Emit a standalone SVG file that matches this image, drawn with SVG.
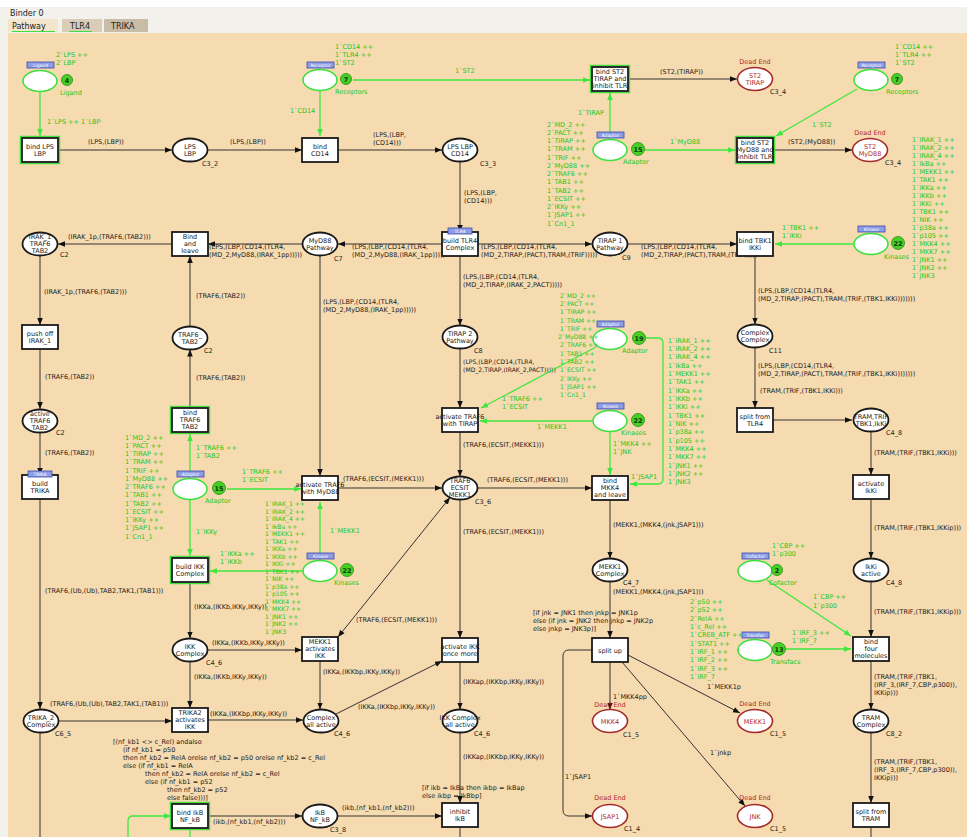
<svg xmlns="http://www.w3.org/2000/svg" width="967" height="837" viewBox="0 0 967 837">
<defs>
<style>
text{font-family:"DejaVu Sans","Liberation Sans",sans-serif;font-size:6.5px;fill:#1a1a1a}
.nt{text-anchor:middle}
.g{fill:#20c820}
.sm{font-size:6.1px}
.r{fill:#b02a2a}
.pl{fill:#fff;stroke:#1a1a1a;stroke-width:1.8}
.de{fill:#fff;stroke:#a52a2a;stroke-width:1.6}
.fp{fill:#fff;stroke:#3ee03e;stroke-width:1.6}
.tr{fill:#fff;stroke:#1a1a1a;stroke-width:1.8}
.tgo{fill:none;stroke:#3ee03e;stroke-width:1.4}
.arc{fill:none;stroke:#333;stroke-width:1;marker-end:url(#ah)}
.arcn{fill:none;stroke:#333;stroke-width:1}
.garc{fill:none;stroke:#3ee83e;stroke-width:1.3;marker-end:url(#gh)}
.garcn{fill:none;stroke:#3ee83e;stroke-width:1.3}
.tag{fill:#8d9ee6;stroke:#3a4aa8;stroke-width:0.8}
.tagt{font-size:4.5px;fill:#fff;text-anchor:middle}
.tok{fill:#48cf26;stroke:#2a8a12;stroke-width:0.8}
.tokt{font-size:6.5px;fill:#0c3a0c;text-anchor:middle;font-weight:bold}
.hd{font-family:"DejaVu Sans",sans-serif;font-size:8px;fill:#222}
</style>
<marker id="ah" viewBox="0 0 10 10" refX="10" refY="5" markerWidth="7" markerHeight="7" markerUnits="userSpaceOnUse" orient="auto-start-reverse"><path d="M0,1 L10,5 L0,9 z" fill="#111"/></marker>
<marker id="gh" viewBox="0 0 10 10" refX="10" refY="5" markerWidth="7" markerHeight="7" markerUnits="userSpaceOnUse" orient="auto"><path d="M0,1 L10,5 L0,9 z" fill="#3ee83e"/></marker>
</defs>

<!-- window chrome -->
<rect x="0" y="0" width="967" height="837" fill="#f2f1ec"/>
<rect x="0" y="0" width="967" height="7" fill="#ffffff"/>
<text class="hd" x="10" y="16">Binder 0</text>
<rect x="8" y="19" width="50" height="13" fill="#f3e6cc"/>
<rect x="62" y="19" width="40" height="13" fill="#d9cdb8"/>
<rect x="104" y="19" width="44" height="13" fill="#c9bca6"/>
<text class="hd" x="12" y="29">Pathway</text>
<text class="hd" x="70" y="29">TLR4</text>
<text class="hd" x="111" y="29">TRIKA</text>
<line x1="12" y1="31.5" x2="55" y2="31.5" stroke="#3ee03e" stroke-width="1"/>
<line x1="69" y1="31.5" x2="92" y2="31.5" stroke="#3ee03e" stroke-width="1"/>
<rect x="8" y="33" width="959" height="804" fill="#f6dab0"/>

<!-- connectors -->
<g id="connectors">
<path class="arc" d="M58,150 H172"/><text x="88" y="144">(LPS,(LBP))</text>
<path class="arc" d="M208,150 H302"/><text x="230" y="144">(LPS,(LBP))</text>
<path class="arc" d="M338,150 H442"/><text x="373" y="137">(LPS,(LBP,</text><text x="373" y="145">(CD14)))</text>
<path class="arc" d="M628,79 H737"/><text x="660" y="74">(ST2,(TIRAP))</text>
<path class="arc" d="M773,150 H852"/><text x="788" y="144">(ST2,(MyD88))</text>
<path class="arc" d="M460,161.5 V232"/><text x="464" y="195">(LPS,(LBP,</text><text x="464" y="203">(CD14)))</text>
<path class="arc" d="M442,244 H338"/><text x="352" y="249">(LPS,(LBP,(CD14,(TLR4,</text><text x="352" y="257">(MD_2,MyD88,(IRAK_1pp)))))</text>
<path class="arc" d="M478,244 H592"/><text x="481" y="249">(LPS,(LBP,(CD14,(TLR4,</text><text x="481" y="257">(MD_2,TIRAP,(PACT),TRAM,(TRIF)))))</text>
<path class="arc" d="M628,244 H737"/><text x="641" y="249">(LPS,(LBP,(CD14,(TLR4,</text><text x="641" y="257">(MD_2,TIRAP,(PACT),TRAM,(TRIF)))))</text>
<path class="arc" d="M302,244 H208"/><text x="209" y="249">(LPS,(LBP,(CD14,(TLR4,</text><text x="209" y="257">(MD_2,MyD88,(IRAK_1pp)))))</text>
<path class="arc" d="M172,244 H58"/><text x="68" y="239">(IRAK_1p,(TRAF6,(TAB2)))</text>
<path class="arc" d="M40,255.5 V325"/><text x="44" y="294">(IRAK_1p,(TRAF6,(TAB2)))</text>
<path class="arc" d="M40,349 V409"/><text x="45" y="379">(TRAF6,(TAB2))</text>
<path class="arc" d="M40,432.5 V475"/><text x="45" y="455">(TRAF6,(TAB2))</text>
<path class="arc" d="M40,499 V709"/><text x="45" y="593">(TRAF6,(Ub,(Ub),TAB2,TAK1,(TAB1)))</text>
<path class="arc" d="M58,721 H172"/><text x="50" y="706">(TRAF6,(Ub,(Ub),TAB2,TAK1,(TAB1)))</text>
<path class="arcn" d="M40,732.5 V837"/>
<path class="arc" d="M190,326 V256"/><text x="196" y="298">(TRAF6,(TAB2))</text>
<path class="arc" d="M190,408 V349.5"/><text x="196" y="380">(TRAF6,(TAB2))</text>
<path class="arc" d="M320,255.5 V476"/><text x="323" y="304">(LPS,(LBP,(CD14,(TLR4,</text><text x="323" y="312">(MD_2,MyD88,(IRAK_1pp)))))</text>
<path class="arc" d="M338,488 H442"/><text x="343" y="481">(TRAF6,(ECSIT,(MEKK1)))</text>
<path class="arc" d="M460,256 V325.5"/><text x="463" y="279">(LPS,(LBP,(CD14,(TLR4,</text><text x="463" y="287">(MD_2,TIRAP,(IRAK_2,PACT)))))</text>
<path class="arc" d="M460,348.5 V408"/><text class="sm" x="463" y="364">(LPS,(LBP,(CD14,(TLR4,</text><text class="sm" x="463" y="372">(MD_2,TIRAP,(IRAK_2,PACT)))))</text>
<path class="arc" d="M460,432 V476.5"/><text x="463" y="447">(TRAF6,(ECSIT,(MEKK1)))</text>
<path class="arc" d="M478,488 H592"/><text x="487" y="482">(TRAF6,(ECSIT,(MEKK1)))</text>
<path class="arc" d="M460,499.5 V638"/><text x="463" y="534">(TRAF6,(ECSIT,(MEKK1)))</text>
<path class="arc" d="M450,497.5 L338,637" marker-start="url(#ah)"/><text x="356" y="622">(TRAF6,(ECSIT,(MEKK1)))</text>
<path class="arc" d="M610,500 V558.5"/><text x="613" y="527">(MEKK1,(MKK4,(jnk,JSAP1)))</text>
<path class="arc" d="M610,581.5 V638"/><text x="613" y="594">(MEKK1,(MKK4,(jnk,JSAP1)))</text>
<text x="533" y="615">[if jnk = JNK1 then jnkp = JNK1p</text><text x="533" y="623">else (if jnk = JNK2 then jnkp = JNK2p</text><text x="533" y="631">else jnkp = JNK3p)]</text>
<path class="arc" d="M610,662 V709.5"/><text x="613" y="699">1`MKK4pp</text>
<path class="arc" d="M628,655 L740,713"/><text x="707" y="689">1`MEKK1p</text>
<path class="arc" d="M622,662 L745,806"/><text x="710" y="755">1`jnkp</text>
<path class="arc" d="M592,650 H569 Q563,650 563,656 V810 Q563,816 569,816 H592"/><text x="565" y="779">1`JSAP1</text>
<path class="arc" d="M190,582 V638.5"/><text x="194" y="609">(IKKa,(IKKb,IKKy,IKKy))</text>
<path class="arc" d="M208,650 H302"/><text x="212" y="645">(IKKa,(IKKb,IKKy,IKKy))</text>
<path class="arc" d="M190,661.5 V708"/><text x="194" y="679">(IKKa,(IKKb,IKKy,IKKy))</text>
<path class="arc" d="M320,661 V709.5"/><text x="323" y="674">(IKKa,(IKKbp,IKKy,IKKy))</text>
<path class="arc" d="M208,720 H303"/><text x="210" y="716">(IKKa,(IKKbp,IKKy,IKKy))</text>
<path class="arc" d="M336,714 L442,661"/><text x="358" y="709">(IKKa,(IKKbp,IKKy,IKKy))</text>
<path class="arc" d="M460,662 V709.5"/><text x="463" y="684">(IKKap,(IKKbp,IKKy,IKKy))</text>
<path class="arc" d="M460,732.5 V803"/><text x="463" y="759">(IKKap,(IKKbp,IKKy,IKKy))</text>
<text x="422" y="790">[if ikb = IkBa then ikbp = IkBap</text><text x="422" y="798">else ikbp = IkBbp]</text>
<path class="arc" d="M338,816 H442"/><text x="342" y="810">(ikb,(nf_kb1,(nf_kb2)))</text>
<path class="arc" d="M208,816 H302"/><text x="213" y="824">(ikb,(nf_kb1,(nf_kb2)))</text>
<text x="113" y="744">[(nf_kb1 &lt;&gt; c_Rel) andalso</text>
<text x="123" y="752">(if nf_kb1 = p50</text>
<text x="123" y="760">then nf_kb2 = RelA orelse nf_kb2 = p50 orelse nf_kb2 = c_Rel</text>
<text x="123" y="768">else (if nf_kb1 = RelA</text>
<text x="145" y="776">then nf_kb2 = RelA orelse nf_kb2 = c_Rel</text>
<text x="145" y="784">else (if nf_kb1 = p52</text>
<text x="167" y="792">then nf_kb2 = p52</text>
<text x="167" y="800">else false)))]</text>
<path class="arcn" d="M460,827 V837"/>
<path class="arcn" d="M871,827 V837"/>
<path class="arc" d="M755,256 V324.5"/><text x="758" y="293">(LPS,(LBP,(CD14,(TLR4,</text><text x="758" y="301">(MD_2,TIRAP,(PACT),TRAM,(TRIF,(TBK1,IKKi)))))))</text>
<path class="arc" d="M755,347.5 V408"/><text x="758" y="368">(LPS,(LBP,(CD14,(TLR4,</text><text x="758" y="376">(MD_2,TIRAP,(PACT),TRAM,(TRIF,(TBK1,IKKi)))))))</text><text x="760" y="393">(TRAM,(TRIF,(TBK1,IKKi)))</text>
<path class="arc" d="M773,420 H852"/>
<path class="arc" d="M871,431.5 V475"/><text x="874" y="455">(TRAM,(TRIF,(TBK1,IKKi)))</text>
<path class="arc" d="M871,499 V558.5"/><text x="874" y="530">(TRAM,(TRIF,(TBK1,IKKip)))</text>
<path class="arc" d="M871,581.5 V637"/><text x="874" y="614">(TRAM,(TRIF,(TBK1,IKKip)))</text>
<path class="arc" d="M871,661 V709.5"/><text x="874" y="679">(TRAM,(TRIF,(TBK1,</text><text x="874" y="687">(IRF_3,(IRF_7,CBP,p300)),</text><text x="874" y="695">IKKip)))</text>
<path class="arc" d="M871,732.5 V803"/><text x="874" y="764">(TRAM,(TRIF,(TBK1,</text><text x="874" y="772">(IRF_3,(IRF_7,CBP,p300)),</text><text x="874" y="780">IKKip)))</text>

<!-- green (fusion) arcs -->
<path class="garc" d="M40,91 V136"/><text class="g" x="47" y="124">1`LPS ++ 1`LBP</text>
<path class="garc" d="M320,91 V136"/><text class="g" x="290" y="113">1`CD14</text>
<path class="garc" d="M353,80 H590"/><text class="g" x="455" y="73">1`ST2</text>
<path class="garc" d="M610,139 V93"/><text class="g" x="578" y="115">1`TIRAP</text>
<path class="garc" d="M645,150 H735"/><text class="g" x="670" y="144">1`MyD88</text>
<path class="garc" d="M857,89 L776,136"/><text class="g" x="812" y="127">1`ST2</text>
<path class="garc" d="M853,244 H775"/><text class="g" x="782" y="230">1`TBK1 ++</text><text class="g" x="782" y="238">1`IKKi</text>
<path class="garc" d="M596,347 L481,408"/><text class="g" x="502" y="401">1`TRAF6 ++</text><text class="g" x="502" y="409">1`ECSIT</text>
<path class="garc" d="M646,338 H658 Q663,338 663,343 V479 Q663,484 658,484 H630"/><text class="g" x="631" y="479">1`JSAP1</text>
<path class="garc" d="M592,421 H480"/><text class="g" x="537" y="429">1`MEKK1</text>
<path class="garc" d="M610,432 V475"/><text class="g" x="613" y="446">1`MKK4 ++</text><text class="g" x="613" y="454">1`JNK</text>
<path class="garc" d="M190,478 V434"/><text class="g" x="196" y="450">1`TRAF6 ++</text><text class="g" x="196" y="458">1`TAB2</text>
<path class="garc" d="M227,489 H301"/><text class="g" x="242" y="474">1`TRAF6 ++</text><text class="g" x="242" y="482">1`ECSIT</text>
<path class="garc" d="M190,500 V556"/><text class="g" x="196" y="534">1`IKKy</text>
<path class="garc" d="M320,560 V502"/><text class="g" x="330" y="533">1`MEKK1</text>
<path class="garc" d="M302,571 H210"/><text class="g" x="220" y="556">1`IKKa ++</text><text class="g" x="220" y="564">1`IKKb</text>
<path class="garc" d="M767,580 L851,636"/><text class="g" x="813" y="599">1`CBP ++</text><text class="g" x="813" y="608">1`p300</text>
<path class="garc" d="M786,649 H851"/><text class="g" x="792" y="635">1`IRF_3 ++</text><text class="g" x="792" y="643">1`IRF_7</text>
<path class="garc" d="M128,837 V821 Q128,816 133,816 H171"/>
<path class="garcn" d="M190,837 V829"/>
</g>

<!-- fusion places -->
<g id="f-ligand">
<ellipse class="fp" cx="40" cy="81" rx="17" ry="10.5"/>
<rect class="tag" x="27" y="62" width="27" height="6"/><text class="tagt" x="40.5" y="66.7">Ligand</text>
<circle class="tok" cx="67" cy="80" r="5.5"/><text class="tokt" x="67" y="82.5">4</text>
<text class="g" x="60" y="95">Ligand</text>
<text class="g" x="56" y="57">2`LPS ++</text><text class="g" x="56" y="65">2`LBP</text>
</g>
<g id="f-receptors1">
<ellipse class="fp" cx="320" cy="80" rx="17" ry="10.5"/>
<rect class="tag" x="307" y="62" width="27" height="6"/><text class="tagt" x="320.5" y="66.7">Receptor</text>
<circle class="tok" cx="346" cy="79" r="5.5"/><text class="tokt" x="346" y="81.5">7</text>
<text class="g" x="335" y="94">Receptors</text>
<text class="g" x="335" y="49">1`CD14 ++</text><text class="g" x="335" y="57">1`TLR4 ++</text><text class="g" x="335" y="65">1`ST2</text>
</g>
<g id="f-receptors2">
<ellipse class="fp" cx="871" cy="80" rx="17" ry="10.5"/>
<rect class="tag" x="858" y="62" width="27" height="6"/><text class="tagt" x="871.5" y="66.7">Receptor</text>
<circle class="tok" cx="897" cy="79" r="5.5"/><text class="tokt" x="897" y="81.5">7</text>
<text class="g" x="886" y="94">Receptors</text>
<text class="g" x="895" y="49">1`CD14 ++</text><text class="g" x="895" y="57">1`TLR4 ++</text><text class="g" x="895" y="65">1`ST2</text>
</g>
<g id="f-adaptor1">
<ellipse class="fp" cx="610" cy="150" rx="17" ry="10.5"/>
<rect class="tag" x="597" y="132" width="27" height="6"/><text class="tagt" x="610.5" y="136.7">Adaptor</text>
<circle class="tok" cx="638" cy="149" r="6.5"/><text class="tokt" x="638" y="151.5">15</text>
<text class="g" x="623" y="164">Adaptor</text>
<text class="g" x="547" y="127">2`MD_2 ++</text><text class="g" x="547" y="135">2`PACT ++</text><text class="g" x="547" y="143">1`TIRAP ++</text><text class="g" x="547" y="151">1`TRAM ++</text><text class="g" x="547" y="160">1`TRIF ++</text><text class="g" x="547" y="168">2`MyD88 ++</text><text class="g" x="547" y="176">2`TRAF6 ++</text><text class="g" x="547" y="184">1`TAB1 ++</text><text class="g" x="547" y="193">1`TAB2 ++</text><text class="g" x="547" y="201">1`ECSIT ++</text><text class="g" x="547" y="209">2`IKKy ++</text><text class="g" x="547" y="217">1`JSAP1 ++</text><text class="g" x="547" y="226">1`Cn1_1</text>
</g>
<g id="f-kinases1">
<ellipse class="fp" cx="871" cy="244" rx="17" ry="10.5"/>
<rect class="tag" x="858" y="226" width="27" height="6"/><text class="tagt" x="871.5" y="230.7">Kinase</text>
<circle class="tok" cx="898" cy="243" r="6.5"/><text class="tokt" x="898" y="245.5">22</text>
<text class="g" x="884" y="259">Kinases</text>
<text class="g" x="912" y="142">1`IRAK_1 ++</text><text class="g" x="912" y="150">1`IRAK_2 ++</text><text class="g" x="912" y="158">1`IRAK_4 ++</text><text class="g" x="912" y="166">1`IkBa ++</text><text class="g" x="912" y="174">1`MEKK1 ++</text><text class="g" x="912" y="182">1`TAK1 ++</text><text class="g" x="912" y="190">1`IKKa ++</text><text class="g" x="912" y="198">1`IKKb ++</text><text class="g" x="912" y="206">1`IKKi ++</text><text class="g" x="912" y="214">1`TBK1 ++</text><text class="g" x="912" y="222">1`NIK ++</text><text class="g" x="912" y="230">1`p38a ++</text><text class="g" x="912" y="238">1`p105 ++</text><text class="g" x="912" y="246">1`MKK4 ++</text><text class="g" x="912" y="254">1`MKK7 ++</text><text class="g" x="912" y="262">1`JNK1 ++</text><text class="g" x="912" y="270">1`JNK2 ++</text><text class="g" x="912" y="278">1`JNK3</text>
</g>
<g id="f-adaptor2">
<ellipse class="fp" cx="610" cy="339" rx="17" ry="10.5"/>
<rect class="tag" x="597" y="321" width="27" height="6"/><text class="tagt" x="610.5" y="325.7">Adaptor</text>
<circle class="tok" cx="639" cy="338" r="6.5"/><text class="tokt" x="639" y="340.5">19</text>
<text class="g" x="622" y="353">Adaptor</text>
<text class="g sm" x="560" y="298">2`MD_2 ++</text><text class="g sm" x="560" y="306">2`PACT ++</text><text class="g sm" x="560" y="314">1`TIRAP ++</text><text class="g sm" x="560" y="323">1`TRAM ++</text><text class="g sm" x="560" y="331">1`TRIF ++</text><text class="g sm" x="558" y="339">2`MyD88 ++</text><text class="g sm" x="560" y="347">2`TRAF6 ++</text><text class="g sm" x="560" y="356">1`TAB1 ++</text><text class="g sm" x="560" y="364">1`TAB2 ++</text><text class="g sm" x="560" y="372">1`ECSIT ++</text><text class="g sm" x="560" y="381">2`IKKy ++</text><text class="g sm" x="560" y="389">1`JSAP1 ++</text><text class="g sm" x="560" y="397">1`Cn1_1</text>
</g>
<g id="f-kinases2">
<ellipse class="fp" cx="610" cy="421" rx="17" ry="10.5"/>
<rect class="tag" x="597" y="403" width="27" height="6"/><text class="tagt" x="610.5" y="407.7">Kinase</text>
<circle class="tok" cx="638" cy="420" r="6.5"/><text class="tokt" x="638" y="422.5">22</text>
<text class="g" x="621" y="435">Kinases</text>
<text class="g" x="668" y="343">1`IRAK_1 ++</text><text class="g" x="668" y="351">1`IRAK_2 ++</text><text class="g" x="668" y="359">1`IRAK_4 ++</text><text class="g" x="668" y="368">1`IkBa ++</text><text class="g" x="668" y="376">1`MEKK1 ++</text><text class="g" x="668" y="384">1`TAK1 ++</text><text class="g" x="668" y="393">1`IKKa ++</text><text class="g" x="668" y="401">1`IKKb ++</text><text class="g" x="668" y="409">1`IKKi ++</text><text class="g" x="668" y="418">1`TBK1 ++</text><text class="g" x="668" y="426">1`NIK ++</text><text class="g" x="668" y="434">1`p38a ++</text><text class="g" x="668" y="443">1`p105 ++</text><text class="g" x="668" y="451">1`MKK4 ++</text><text class="g" x="668" y="459">1`MKK7 ++</text><text class="g" x="668" y="468">1`JNK1 ++</text><text class="g" x="668" y="476">1`JNK2 ++</text><text class="g" x="668" y="484">1`JNK3</text>
</g>
<g id="f-adaptor3">
<ellipse class="fp" cx="190" cy="489" rx="17" ry="10.5"/>
<rect class="tag" x="177" y="471" width="27" height="6"/><text class="tagt" x="190.5" y="475.7">Adaptor</text>
<circle class="tok" cx="219" cy="488" r="6.5"/><text class="tokt" x="219" y="490.5">15</text>
<text class="g" x="205" y="503">Adaptor</text>
<text class="g" x="125" y="440">1`MD_2 ++</text><text class="g" x="125" y="448">1`PACT ++</text><text class="g" x="125" y="456">1`TIRAP ++</text><text class="g" x="125" y="464">1`TRAM ++</text><text class="g" x="125" y="473">1`TRIF ++</text><text class="g" x="125" y="481">1`MyD88 ++</text><text class="g" x="125" y="489">2`TRAF6 ++</text><text class="g" x="125" y="497">1`TAB1 ++</text><text class="g" x="125" y="506">1`TAB2 ++</text><text class="g" x="125" y="514">1`ECSIT ++</text><text class="g" x="125" y="522">1`IKKy ++</text><text class="g" x="125" y="530">1`JSAP1 ++</text><text class="g" x="125" y="539">1`Cn1_1</text>
</g>
<g id="f-kinases3">
<ellipse class="fp" cx="320" cy="571" rx="17" ry="10.5"/>
<rect class="tag" x="307" y="553" width="27" height="6"/><text class="tagt" x="320.5" y="557.7">Kinase</text>
<circle class="tok" cx="347" cy="570" r="6.5"/><text class="tokt" x="347" y="572.5">22</text>
<text class="g" x="334" y="585">Kinases</text>
<text class="g sm" x="265" y="506">1`IRAK_1 ++</text><text class="g sm" x="265" y="513.5">1`IRAK_2 ++</text><text class="g sm" x="265" y="521">1`IRAK_4 ++</text><text class="g sm" x="265" y="528.5">1`IkBa ++</text><text class="g sm" x="265" y="536">1`MEKK1 ++</text><text class="g sm" x="265" y="543.5">1`TAK1 ++</text><text class="g sm" x="265" y="551">1`IKKa ++</text><text class="g sm" x="265" y="558.5">1`IKKb ++</text><text class="g sm" x="265" y="566">1`IKKi ++</text><text class="g sm" x="265" y="573.5">1`TBK1 ++</text><text class="g sm" x="265" y="581">1`NIK ++</text><text class="g sm" x="265" y="588.5">1`p38a ++</text><text class="g sm" x="265" y="596">1`p105 ++</text><text class="g sm" x="265" y="603.5">1`MKK4 ++</text><text class="g sm" x="265" y="611">1`MKK7 ++</text><text class="g sm" x="265" y="618.5">1`JNK1 ++</text><text class="g sm" x="265" y="626">1`JNK2 ++</text><text class="g sm" x="265" y="633.5">1`JNK3</text>
</g>
<g id="f-cofactor">
<ellipse class="fp" cx="755" cy="571" rx="17" ry="10.5"/>
<rect class="tag" x="742" y="553" width="27" height="6"/><text class="tagt" x="755.5" y="557.7">Cofactor</text>
<circle class="tok" cx="777" cy="570" r="5.5"/><text class="tokt" x="777" y="572.5">2</text>
<text class="g" x="769" y="585">Cofactor</text>
<text class="g" x="772" y="548">1`CBP ++</text><text class="g" x="772" y="556">1`p300</text>
</g>
<g id="f-transfac">
<ellipse class="fp" cx="755" cy="650" rx="17" ry="10.5"/>
<rect class="tag" x="742" y="632" width="27" height="6"/><text class="tagt" x="755.5" y="636.7">Transfac</text>
<circle class="tok" cx="779" cy="649" r="6.5"/><text class="tokt" x="779" y="651.5">13</text>
<text class="g" x="770" y="664">Transfacs</text>
<text class="g" x="690" y="604">2`p50 ++</text><text class="g" x="690" y="612">2`p52 ++</text><text class="g" x="690" y="621">2`RelA ++</text><text class="g" x="690" y="629">1`c_Rel ++</text><text class="g" x="690" y="637">1`CREB_ATF ++</text><text class="g" x="690" y="646">1`STAT1 ++</text><text class="g" x="690" y="654">1`IRF_1 ++</text><text class="g" x="690" y="662">1`IRF_2 ++</text><text class="g" x="690" y="671">1`IRF_3 ++</text><text class="g" x="690" y="679">1`IRF_7</text>
</g>

<!-- places -->
<g id="p-lps-lbp"><ellipse class="pl" cx="190" cy="150" rx="17.5" ry="11.5"/><text class="nt" x="190" y="148.5">LPS</text><text class="nt" x="190" y="156">LBP</text><text x="202" y="166">C3_2</text></g>
<g id="p-lps-lbp-cd14"><ellipse class="pl" cx="460" cy="150" rx="17.5" ry="11.5"/><text class="nt" x="460" y="148.5">LPS LBP</text><text class="nt" x="460" y="156">CD14</text><text x="480" y="166">C3_3</text></g>
<g id="p-irak"><ellipse class="pl" cx="40" cy="244" rx="17.5" ry="11.5"/><text class="nt" x="40" y="239">IRAK_1</text><text class="nt" x="40" y="246">TRAF6</text><text class="nt" x="40" y="253">TAB2</text><text x="60" y="257">C2</text></g>
<g id="p-myd88"><ellipse class="pl" cx="320" cy="244" rx="17.5" ry="11.5"/><text class="nt" x="320" y="242.5">MyD88</text><text class="nt" x="320" y="250">Pathway</text><text x="334" y="261">C7</text></g>
<g id="p-tirap1"><ellipse class="pl" cx="610" cy="244" rx="17.5" ry="11.5"/><text class="nt" x="610" y="242.5">TIRAP 1</text><text class="nt" x="610" y="250">Pathway</text><text x="622" y="260">C9</text></g>
<g id="p-traf6-tab2"><ellipse class="pl" cx="190" cy="338" rx="17.5" ry="11.5"/><text class="nt" x="190" y="336.5">TRAF6_</text><text class="nt" x="190" y="344">TAB2</text><text x="204" y="353">C2</text></g>
<g id="p-tirap2"><ellipse class="pl" cx="460" cy="337" rx="17.5" ry="11.5"/><text class="nt" x="460" y="335.5">TIRAP 2</text><text class="nt" x="460" y="343">Pathway</text><text x="474" y="353">C8</text></g>
<g id="p-complex"><ellipse class="pl" cx="755" cy="336" rx="17.5" ry="11.5"/><text class="nt" x="755" y="334.5">Complex</text><text class="nt" x="755" y="342">Complex</text><text x="769" y="353">C11</text></g>
<g id="p-active-traf6"><ellipse class="pl" cx="40" cy="421" rx="17.5" ry="11.5"/><text class="nt" x="40" y="416">active</text><text class="nt" x="40" y="423">TRAF6</text><text class="nt" x="40" y="430">TAB2</text><text x="56" y="435">C2</text></g>
<g id="p-tram-trif"><ellipse class="pl" cx="871" cy="420" rx="17.5" ry="11.5"/><text class="nt" x="871" y="418.5">TRAM,TRIF</text><text class="nt" x="871" y="426">TBK1,IkKi</text><text x="886" y="435">C4_8</text></g>
<g id="p-traf6-ecsit"><ellipse class="pl" cx="460" cy="488" rx="17.5" ry="11.5"/><text class="nt" x="460" y="483">TRAF6</text><text class="nt" x="460" y="490">ECSIT</text><text class="nt" x="460" y="497">MEKK1</text><text x="475" y="504">C3_6</text></g>
<g id="p-mekk1-complex"><ellipse class="pl" cx="610" cy="570" rx="17.5" ry="11.5"/><text class="nt" x="610" y="568.5">MEKK1</text><text class="nt" x="610" y="576">Complex</text><text x="623" y="585">C4_7</text></g>
<g id="p-ikki-active"><ellipse class="pl" cx="871" cy="570" rx="17.5" ry="11.5"/><text class="nt" x="871" y="568.5">IkKi</text><text class="nt" x="871" y="576">active</text><text x="886" y="585">C4_8</text></g>
<g id="p-ikk-complex"><ellipse class="pl" cx="190" cy="650" rx="17.5" ry="11.5"/><text class="nt" x="190" y="648.5">IKK</text><text class="nt" x="190" y="656">Complex</text><text x="206" y="665">C4_6</text></g>
<g id="p-trika2"><ellipse class="pl" cx="41" cy="721" rx="17.5" ry="11.5"/><text class="nt" x="41" y="719.5">TRIKA_2</text><text class="nt" x="41" y="727">Complex</text><text x="55" y="736">C6_5</text></g>
<g id="p-complex-all-active"><ellipse class="pl" cx="321" cy="721" rx="17.5" ry="11.5"/><text class="nt" x="321" y="719.5">Complex</text><text class="nt" x="321" y="727">all active</text><text x="334" y="736">C4_6</text></g>
<g id="p-ikk-complex-all-active"><ellipse class="pl" cx="460" cy="721" rx="17.5" ry="11.5"/><text class="nt" x="460" y="719.5">IKK Complex</text><text class="nt" x="460" y="727">all active</text><text x="474" y="736">C4_6</text></g>
<g id="p-tram-complex"><ellipse class="pl" cx="871" cy="721" rx="17.5" ry="11.5"/><text class="nt" x="871" y="719.5">TRAM</text><text class="nt" x="871" y="727">Complex</text><text x="886" y="736">C8_2</text></g>
<g id="p-ikb-nfkb"><ellipse class="pl" cx="320" cy="816" rx="17.5" ry="11.5"/><text class="nt" x="320" y="814.5">IkB</text><text class="nt" x="320" y="822">NF_kB</text><text x="330" y="832">C3_8</text></g>

<!-- dead ends -->
<g id="d-st2-tirap"><ellipse class="de" cx="755" cy="79" rx="17.5" ry="11.5"/><text class="nt r" x="755" y="77.5">ST2</text><text class="nt r" x="755" y="85">TIRAP</text><text class="nt r" x="755" y="64">Dead End</text><text x="770" y="94">C3_4</text></g>
<g id="d-st2-myd88"><ellipse class="de" cx="870" cy="150" rx="17.5" ry="11.5"/><text class="nt r" x="870" y="148.5">ST2</text><text class="nt r" x="870" y="156">MyD88</text><text class="nt r" x="870" y="135">Dead End</text><text x="885" y="165">C3_4</text></g>
<g id="d-mkk4"><ellipse class="de" cx="610" cy="721" rx="17.5" ry="11.5"/><text class="nt r" x="610" y="723.5">MKK4</text><text class="nt r" x="610" y="707">Dead End</text><text x="623" y="737">C1_5</text></g>
<g id="d-mekk1"><ellipse class="de" cx="755" cy="721" rx="17.5" ry="11.5"/><text class="nt r" x="755" y="723.5">MEKK1</text><text class="nt r" x="755" y="706">Dead End</text><text x="770" y="736">C1_5</text></g>
<g id="d-jsap1"><ellipse class="de" cx="610" cy="816" rx="17.5" ry="11.5"/><text class="nt r" x="610" y="818.5">JSAP1</text><text class="nt r" x="610" y="800">Dead End</text><text x="624" y="831">C1_4</text></g>
<g id="d-jnk"><ellipse class="de" cx="755" cy="816" rx="17.5" ry="11.5"/><text class="nt r" x="755" y="818.5">JNK</text><text class="nt r" x="755" y="800">Dead End</text><text x="770" y="831">C1_5</text></g>

<!-- transitions -->
<g id="t-bind-lps-lbp"><rect class="tgo" x="20.5" y="136.5" width="39" height="27"/><rect class="tr" x="22" y="138" width="36" height="24"/><text class="nt" x="40" y="148.5">bind LPS</text><text class="nt" x="40" y="156">LBP</text></g>
<g id="t-bind-cd14"><rect class="tr" x="302" y="138" width="36" height="24"/><text class="nt" x="320" y="148.5">bind</text><text class="nt" x="320" y="156">CD14</text></g>
<g id="t-bind-st2-tirap"><rect class="tgo" x="590.5" y="65.5" width="39" height="27"/><rect class="tr" x="592" y="67" width="36" height="24"/><text class="nt" x="610" y="74">bind ST2</text><text class="nt" x="610" y="81">TIRAP and</text><text class="nt" x="610" y="88">inhibit TLR</text></g>
<g id="t-bind-st2-myd88"><rect class="tgo" x="735.5" y="136.5" width="39" height="27"/><rect class="tr" x="737" y="138" width="36" height="24"/><text class="nt" x="755" y="145">bind ST2</text><text class="nt" x="755" y="152">MyD88 and</text><text class="nt" x="755" y="159">inhibit TLR</text></g>
<g id="t-build-tlr4"><rect class="tr" x="442" y="232" width="36" height="24"/><rect class="tag" x="448" y="228" width="24" height="6"/><text class="tagt" x="460" y="232.7">TLR4</text><text class="nt" x="460" y="242.5">build TLR4</text><text class="nt" x="460" y="250">Complex</text></g>
<g id="t-bind-leave"><rect class="tr" x="172" y="232" width="36" height="24"/><text class="nt" x="190" y="239">Bind</text><text class="nt" x="190" y="246">and</text><text class="nt" x="190" y="253">leave</text></g>
<g id="t-bind-tbk1"><rect class="tr" x="737" y="232" width="36" height="24"/><text class="nt" x="755" y="242.5">bind TBK1</text><text class="nt" x="755" y="250">IKKi</text></g>
<g id="t-push-off"><rect class="tr" x="22" y="325" width="36" height="24"/><text class="nt" x="40" y="335.5">push off</text><text class="nt" x="40" y="343">IRAK_1</text></g>
<g id="t-bind-traf6-tab2"><rect class="tgo" x="170.5" y="406.5" width="39" height="27"/><rect class="tr" x="172" y="408" width="36" height="24"/><text class="nt" x="190" y="415">bind</text><text class="nt" x="190" y="422">TRAF6</text><text class="nt" x="190" y="429">TAB2</text></g>
<g id="t-activate-traf6-tirap"><rect class="tr" x="442" y="408" width="36" height="24"/><text class="nt" x="460" y="418.5">activate TRAF6</text><text class="nt" x="460" y="426">with TIRAP</text></g>
<g id="t-split-tlr4"><rect class="tr" x="737" y="408" width="36" height="24"/><text class="nt" x="755" y="418.5">split from</text><text class="nt" x="755" y="426">TLR4</text></g>
<g id="t-build-trika"><rect class="tr" x="22" y="475" width="36" height="24"/><rect class="tag" x="28" y="471" width="24" height="6"/><text class="tagt" x="40" y="475.7">TRIKA</text><text class="nt" x="40" y="485.5">build</text><text class="nt" x="40" y="493">TRIKA</text></g>
<g id="t-activate-traf6-myd88"><rect class="tr" x="302" y="476" width="36" height="24"/><text class="nt" x="320" y="486.5">activate TRAF6</text><text class="nt" x="320" y="494">with MyD88</text></g>
<g id="t-bind-mkk4"><rect class="tr" x="592" y="476" width="36" height="24"/><text class="nt" x="610" y="483">bind</text><text class="nt" x="610" y="490">MKK4</text><text class="nt" x="610" y="497">and leave</text></g>
<g id="t-activate-ikki"><rect class="tr" x="853" y="475" width="36" height="24"/><text class="nt" x="871" y="485.5">activate</text><text class="nt" x="871" y="493">IkKi</text></g>
<g id="t-build-ikk"><rect class="tgo" x="170.5" y="556.5" width="39" height="27"/><rect class="tr" x="172" y="558" width="36" height="24"/><text class="nt" x="190" y="568.5">build IKK</text><text class="nt" x="190" y="576">Complex</text></g>
<g id="t-mekk1-activates"><rect class="tr" x="302" y="637" width="36" height="24"/><text class="nt" x="320" y="644">MEKK1</text><text class="nt" x="320" y="651">activates</text><text class="nt" x="320" y="658">IKK</text></g>
<g id="t-activate-ikk-more"><rect class="tr" x="442" y="638" width="36" height="24"/><text class="nt" x="460" y="648.5">activate IKK</text><text class="nt" x="460" y="656">once more</text></g>
<g id="t-split-up"><rect class="tr" x="592" y="638" width="36" height="24"/><text class="nt" x="610" y="652.5">split up</text></g>
<g id="t-bind-four"><rect class="tr" x="853" y="637" width="36" height="24"/><text class="nt" x="871" y="644">bind</text><text class="nt" x="871" y="651">four</text><text class="nt" x="871" y="658">molecules</text></g>
<g id="t-trika2-activates"><rect class="tr" x="172" y="708" width="36" height="24"/><text class="nt" x="190" y="715">TRIKA2</text><text class="nt" x="190" y="722">activates</text><text class="nt" x="190" y="729">IKK</text></g>
<g id="t-bind-ikb"><rect class="tgo" x="170.5" y="802.5" width="39" height="27"/><rect class="tr" x="172" y="804" width="36" height="24"/><text class="nt" x="190" y="814.5">bind IkB</text><text class="nt" x="190" y="822">NF_kB</text></g>
<g id="t-inhibit-ikb"><rect class="tr" x="442" y="803" width="36" height="24"/><text class="nt" x="460" y="813.5">inhibit</text><text class="nt" x="460" y="821">IkB</text></g>
<g id="t-split-tram"><rect class="tr" x="853" y="803" width="36" height="24"/><text class="nt" x="871" y="813.5">split from</text><text class="nt" x="871" y="821">TRAM</text></g>
</svg>
